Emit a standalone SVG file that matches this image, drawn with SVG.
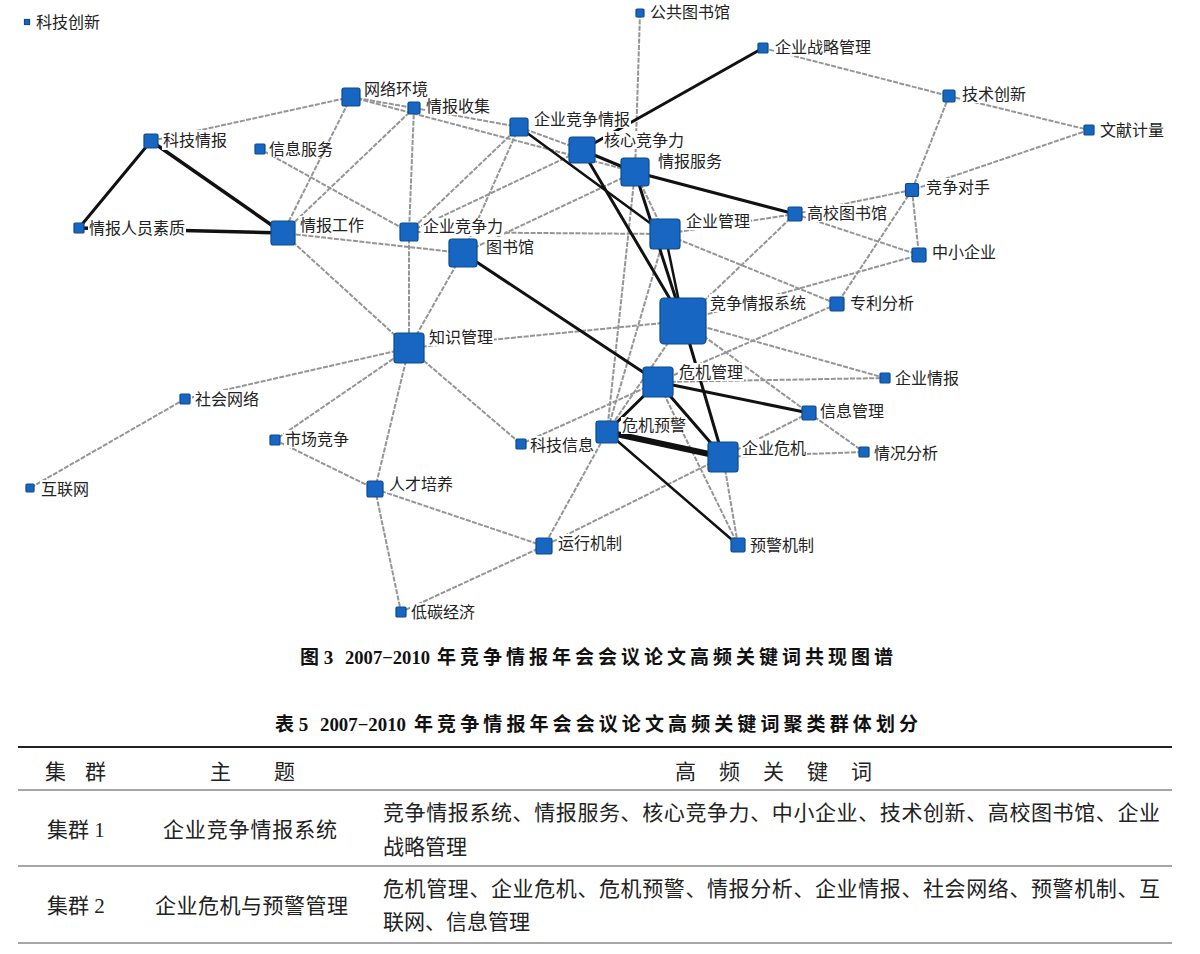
<svg xmlns="http://www.w3.org/2000/svg" width="1200" height="954" viewBox="0 0 1200 954">
<style>
.g{stroke:#959595;stroke-width:2;stroke-dasharray:5 1.4;fill:none}
.b{stroke:#111;fill:none;stroke-linecap:round}
.n{fill:#1766c2;stroke:#0d4a8c;stroke-width:1.2}
.lb{fill:#fff}
.t{font-family:"Noto Sans CJK SC",sans-serif;font-size:16px;fill:#222}
.cap{font-family:"Liberation Serif","Noto Sans CJK SC",serif;font-size:19px;font-weight:bold;fill:#111}
.tb{font-family:"Liberation Serif","Noto Sans CJK SC",serif;font-size:21px;fill:#222}
</style>
<rect width="1200" height="954" fill="#fff"/>
<g id="connectors">
<line class="g" x1="640" y1="13" x2="635" y2="172"/>
<line class="g" x1="763" y1="48" x2="949" y2="96"/>
<line class="g" x1="949" y1="96" x2="1089" y2="130"/>
<line class="g" x1="949" y1="96" x2="912" y2="190"/>
<line class="g" x1="1089" y1="130" x2="912" y2="190"/>
<line class="g" x1="912" y1="190" x2="795" y2="214"/>
<line class="g" x1="912" y1="190" x2="919" y2="255"/>
<line class="g" x1="912" y1="190" x2="837" y2="304"/>
<line class="g" x1="795" y1="214" x2="919" y2="255"/>
<line class="g" x1="795" y1="214" x2="683" y2="321"/>
<line class="g" x1="665" y1="234" x2="795" y2="214"/>
<line class="g" x1="683" y1="321" x2="919" y2="255"/>
<line class="g" x1="665" y1="234" x2="837" y2="304"/>
<line class="g" x1="837" y1="304" x2="658" y2="382"/>
<line class="g" x1="683" y1="321" x2="885" y2="378"/>
<line class="g" x1="658" y1="382" x2="885" y2="378"/>
<line class="g" x1="683" y1="321" x2="809" y2="413"/>
<line class="g" x1="809" y1="413" x2="864" y2="452"/>
<line class="g" x1="723" y1="457" x2="864" y2="452"/>
<line class="g" x1="809" y1="413" x2="723" y2="457"/>
<line class="g" x1="723" y1="457" x2="738" y2="545"/>
<line class="g" x1="658" y1="382" x2="738" y2="545"/>
<line class="g" x1="723" y1="457" x2="544" y2="546"/>
<line class="g" x1="607" y1="432" x2="544" y2="546"/>
<line class="g" x1="658" y1="382" x2="521" y2="444"/>
<line class="g" x1="635" y1="172" x2="607" y2="432"/>
<line class="g" x1="683" y1="321" x2="607" y2="432"/>
<line class="g" x1="665" y1="234" x2="607" y2="432"/>
<line class="g" x1="409" y1="348" x2="683" y2="321"/>
<line class="g" x1="409" y1="348" x2="521" y2="444"/>
<line class="g" x1="409" y1="348" x2="375" y2="489"/>
<line class="g" x1="409" y1="348" x2="275" y2="440"/>
<line class="g" x1="409" y1="348" x2="185" y2="399"/>
<line class="g" x1="185" y1="399" x2="30" y2="488"/>
<line class="g" x1="275" y1="440" x2="375" y2="489"/>
<line class="g" x1="375" y1="489" x2="544" y2="546"/>
<line class="g" x1="375" y1="489" x2="401" y2="612"/>
<line class="g" x1="544" y1="546" x2="401" y2="612"/>
<line class="g" x1="463" y1="253" x2="409" y2="348"/>
<line class="g" x1="283" y1="233" x2="409" y2="348"/>
<line class="g" x1="409" y1="232" x2="409" y2="348"/>
<line class="g" x1="414" y1="108" x2="409" y2="232"/>
<line class="g" x1="283" y1="233" x2="463" y2="253"/>
<line class="g" x1="409" y1="232" x2="665" y2="234"/>
<line class="g" x1="519" y1="127" x2="409" y2="232"/>
<line class="g" x1="519" y1="127" x2="463" y2="253"/>
<line class="g" x1="582" y1="150" x2="409" y2="232"/>
<line class="g" x1="635" y1="172" x2="463" y2="253"/>
<line class="g" x1="260" y1="149" x2="409" y2="232"/>
<line class="g" x1="351" y1="97" x2="151" y2="141"/>
<line class="g" x1="351" y1="97" x2="283" y2="233"/>
<line class="g" x1="414" y1="108" x2="283" y2="233"/>
<line class="g" x1="351" y1="97" x2="414" y2="108"/>
<line class="g" x1="414" y1="108" x2="519" y2="127"/>
<line class="g" x1="351" y1="97" x2="635" y2="172"/>
<line class="g" x1="519" y1="127" x2="582" y2="150"/>
<line class="g" x1="635" y1="172" x2="665" y2="234"/>
<line class="b" stroke-width="3" x1="151" y1="141" x2="79" y2="228"/>
<line class="b" stroke-width="3.5" x1="151" y1="141" x2="283" y2="233"/>
<line class="b" stroke-width="3.5" x1="79" y1="228" x2="283" y2="233"/>
<line class="b" stroke-width="3" x1="763" y1="48" x2="582" y2="150"/>
<line class="b" stroke-width="3" x1="635" y1="172" x2="795" y2="214"/>
<line class="b" stroke-width="3" x1="582" y1="150" x2="635" y2="172"/>
<line class="b" stroke-width="2.5" x1="519" y1="127" x2="665" y2="234"/>
<line class="b" stroke-width="3" x1="582" y1="150" x2="683" y2="321"/>
<line class="b" stroke-width="3" x1="635" y1="172" x2="683" y2="321"/>
<line class="b" stroke-width="2.5" x1="665" y1="234" x2="683" y2="321"/>
<line class="b" stroke-width="3" x1="683" y1="321" x2="723" y2="457"/>
<line class="b" stroke-width="3" x1="463" y1="253" x2="658" y2="382"/>
<line class="b" stroke-width="3" x1="658" y1="382" x2="809" y2="413"/>
<line class="b" stroke-width="3" x1="658" y1="382" x2="723" y2="457"/>
<line class="b" stroke-width="3" x1="658" y1="382" x2="607" y2="432"/>
<line class="b" stroke-width="6" x1="607" y1="432" x2="723" y2="457"/>
<line class="b" stroke-width="2.5" x1="607" y1="432" x2="738" y2="545"/>
</g>
<g id="n-kjcx"><rect class="n" x="24.5" y="19.5" width="5" height="5"/><rect class="lb" x="35" y="13" width="66" height="18"/><text class="t" x="36" y="28">科技创新</text></g>
<g id="n-ggtsg"><rect class="n" x="636" y="9" width="8" height="8" rx="1"/><rect class="lb" x="649" y="3" width="82" height="18"/><text class="t" x="650" y="18">公共图书馆</text></g>
<g id="n-qyzlgl"><rect class="n" x="758" y="43" width="10" height="10" rx="1"/><rect class="lb" x="774" y="38" width="98" height="18"/><text class="t" x="775" y="53">企业战略管理</text></g>
<g id="n-jscx"><rect class="n" x="943" y="90" width="12" height="12" rx="1.5"/><rect class="lb" x="961" y="85" width="66" height="18"/><text class="t" x="962" y="100">技术创新</text></g>
<g id="n-wxjl"><rect class="n" x="1084" y="125" width="10" height="10" rx="1"/><rect class="lb" x="1099" y="121" width="66" height="18"/><text class="t" x="1100" y="136">文献计量</text></g>
<g id="n-wlhj"><rect class="n" x="342" y="88" width="18" height="18" rx="2"/><rect class="lb" x="363" y="80" width="66" height="18"/><text class="t" x="364" y="95">网络环境</text></g>
<g id="n-qbsj"><rect class="n" x="408" y="102" width="12" height="12" rx="1.5"/><rect class="lb" x="425" y="97" width="66" height="18"/><text class="t" x="426" y="112">情报收集</text></g>
<g id="n-qyjzqb"><rect class="n" x="510" y="118" width="18" height="18" rx="2"/><rect class="lb" x="533" y="110" width="98" height="18"/><text class="t" x="534" y="125">企业竞争情报</text></g>
<g id="n-hxjzl"><rect class="n" x="569" y="137" width="26" height="26" rx="3"/><rect class="lb" x="603" y="131" width="82" height="18"/><text class="t" x="604" y="146">核心竞争力</text></g>
<g id="n-qbfw"><rect class="n" x="621" y="158" width="28" height="28" rx="3"/><rect class="lb" x="657" y="152" width="66" height="18"/><text class="t" x="658" y="167">情报服务</text></g>
<g id="n-kjqb"><rect class="n" x="144" y="134" width="14" height="14" rx="1.5"/><rect class="lb" x="162" y="130" width="70" height="20"/><text class="t" x="163" y="146">科技情报</text></g>
<g id="n-xxfw"><rect class="n" x="255" y="144" width="10" height="10" rx="1"/><rect class="lb" x="268" y="141" width="52" height="16"/><text class="t" x="269" y="155">信息服务</text></g>
<g id="n-jzds"><rect class="n" x="905.5" y="183.5" width="13" height="13" rx="1.5"/><rect class="lb" x="925" y="178" width="66" height="18"/><text class="t" x="926" y="193">竞争对手</text></g>
<g id="n-gxtsg"><rect class="n" x="788" y="207" width="14" height="14" rx="1.5"/><rect class="lb" x="806" y="204" width="82" height="18"/><text class="t" x="807" y="219">高校图书馆</text></g>
<g id="n-qbrysz"><rect class="n" x="74" y="223" width="10" height="10" rx="1"/><rect class="lb" x="88" y="219" width="98" height="18"/><text class="t" x="89" y="234">情报人员素质</text></g>
<g id="n-qbgz"><rect class="n" x="271" y="221" width="24" height="24" rx="2.5"/><rect class="lb" x="299" y="216" width="66" height="18"/><text class="t" x="300" y="231">情报工作</text></g>
<g id="n-qyjzl"><rect class="n" x="400" y="223" width="18" height="18" rx="2"/><rect class="lb" x="422" y="218" width="82" height="18"/><text class="t" x="423" y="232">企业竞争力</text></g>
<g id="n-tsg"><rect class="n" x="449" y="239" width="28" height="28" rx="3"/><rect class="lb" x="485" y="237" width="50" height="18"/><text class="t" x="486" y="253">图书馆</text></g>
<g id="n-qygl"><rect class="n" x="650" y="219" width="30" height="30" rx="3"/><rect class="lb" x="685" y="212" width="66" height="18"/><text class="t" x="686" y="227">企业管理</text></g>
<g id="n-zxqy"><rect class="n" x="912" y="248" width="14" height="14" rx="1.5"/><rect class="lb" x="931" y="243" width="66" height="18"/><text class="t" x="932" y="258">中小企业</text></g>
<g id="n-jzqbxt"><rect class="n" x="660" y="298" width="46" height="46" rx="4"/><rect class="lb" x="709" y="294" width="98" height="18"/><text class="t" x="710" y="309">竞争情报系统</text></g>
<g id="n-zlfx"><rect class="n" x="830" y="297" width="14" height="14" rx="1.5"/><rect class="lb" x="849" y="294" width="66" height="18"/><text class="t" x="850" y="309">专利分析</text></g>
<g id="n-zsgl"><rect class="n" x="394" y="333" width="30" height="30" rx="3"/><rect class="lb" x="428" y="328" width="66" height="18"/><text class="t" x="429" y="343">知识管理</text></g>
<g id="n-wjgl"><rect class="n" x="643" y="367" width="30" height="30" rx="3"/><rect class="lb" x="678" y="363" width="66" height="18"/><text class="t" x="679" y="378">危机管理</text></g>
<g id="n-qyqb"><rect class="n" x="880" y="373" width="10" height="10" rx="1"/><rect class="lb" x="894" y="369" width="66" height="18"/><text class="t" x="895" y="384">企业情报</text></g>
<g id="n-shwl"><rect class="n" x="180" y="394" width="10" height="10" rx="1"/><rect class="lb" x="194" y="390" width="66" height="18"/><text class="t" x="195" y="405">社会网络</text></g>
<g id="n-xxgl"><rect class="n" x="802" y="406" width="14" height="14" rx="1.5"/><rect class="lb" x="819" y="402" width="66" height="18"/><text class="t" x="820" y="417">信息管理</text></g>
<g id="n-scjz"><rect class="n" x="270" y="435" width="10" height="10" rx="1"/><rect class="lb" x="284" y="430" width="66" height="18"/><text class="t" x="285" y="445">市场竞争</text></g>
<g id="n-wjyj"><rect class="n" x="596" y="421" width="22" height="22" rx="2.5"/><rect class="lb" x="621" y="417" width="66" height="17"/><text class="t" x="622" y="431">危机预警</text></g>
<g id="n-kjxx"><rect class="n" x="516" y="439" width="10" height="10" rx="1"/><rect class="lb" x="529" y="436" width="66" height="18"/><text class="t" x="530" y="451">科技信息</text></g>
<g id="n-qywj"><rect class="n" x="708" y="442" width="30" height="30" rx="3"/><rect class="lb" x="741" y="439" width="66" height="18"/><text class="t" x="742" y="454">企业危机</text></g>
<g id="n-qkfx"><rect class="n" x="859" y="447" width="10" height="10" rx="1"/><rect class="lb" x="873" y="444" width="66" height="18"/><text class="t" x="874" y="459">情况分析</text></g>
<g id="n-hlw"><rect class="n" x="26" y="484" width="8" height="8" rx="1"/><rect class="lb" x="40" y="480" width="50" height="18"/><text class="t" x="41" y="495">互联网</text></g>
<g id="n-rcpy"><rect class="n" x="367" y="481" width="16" height="16" rx="2"/><rect class="lb" x="388" y="475" width="66" height="18"/><text class="t" x="389" y="490">人才培养</text></g>
<g id="n-yxjz"><rect class="n" x="536" y="538" width="16" height="16" rx="2"/><rect class="lb" x="557" y="534" width="66" height="18"/><text class="t" x="558" y="549">运行机制</text></g>
<g id="n-yjjz"><rect class="n" x="731" y="538" width="14" height="14" rx="1.5"/><rect class="lb" x="749" y="536" width="66" height="18"/><text class="t" x="750" y="551">预警机制</text></g>
<g id="n-dtjj"><rect class="n" x="396" y="607" width="10" height="10" rx="1"/><rect class="lb" x="410" y="603" width="66" height="18"/><text class="t" x="411" y="618">低碳经济</text></g>
<g id="captions">
<text class="cap" x="300" y="664">图 3</text>
<text class="cap" x="345" y="664" textLength="85" lengthAdjust="spacingAndGlyphs">2007−2010</text>
<text class="cap" x="437" y="664" textLength="456" lengthAdjust="spacing">年竞争情报年会会议论文高频关键词共现图谱</text>
<text class="cap" x="275" y="731">表 5</text>
<text class="cap" x="320" y="731" textLength="86" lengthAdjust="spacingAndGlyphs">2007−2010</text>
<text class="cap" x="414" y="731" textLength="504" lengthAdjust="spacing">年竞争情报年会会议论文高频关键词聚类群体划分</text>
</g>
<g id="table">
<line x1="18" y1="747" x2="1172" y2="747" stroke="#222" stroke-width="2"/>
<line x1="18" y1="790" x2="1172" y2="790" stroke="#888" stroke-width="1.5"/>
<line x1="18" y1="866" x2="1172" y2="866" stroke="#888" stroke-width="1.5"/>
<line x1="18" y1="943" x2="1172" y2="943" stroke="#888" stroke-width="1.5"/>
<text class="tb" x="45 85" y="779">集群</text>
<text class="tb" x="210 274" y="779">主题</text>
<text class="tb" x="675 719 763 807 851" y="779">高频关键词</text>
<text class="tb" x="47" y="837">集群 1</text>
<text class="tb" x="163" y="837" textLength="174" lengthAdjust="spacing">企业竞争情报系统</text>
<text class="tb" x="383" y="820" textLength="777" lengthAdjust="spacing">竞争情报系统、情报服务、核心竞争力、中小企业、技术创新、高校图书馆、企业</text>
<text class="tb" x="383" y="854">战略管理</text>
<text class="tb" x="47" y="913">集群 2</text>
<text class="tb" x="155" y="913" textLength="193" lengthAdjust="spacing">企业危机与预警管理</text>
<text class="tb" x="383" y="896" textLength="777" lengthAdjust="spacing">危机管理、企业危机、危机预警、情报分析、企业情报、社会网络、预警机制、互</text>
<text class="tb" x="383" y="929">联网、信息管理</text>
</g>
</svg>
